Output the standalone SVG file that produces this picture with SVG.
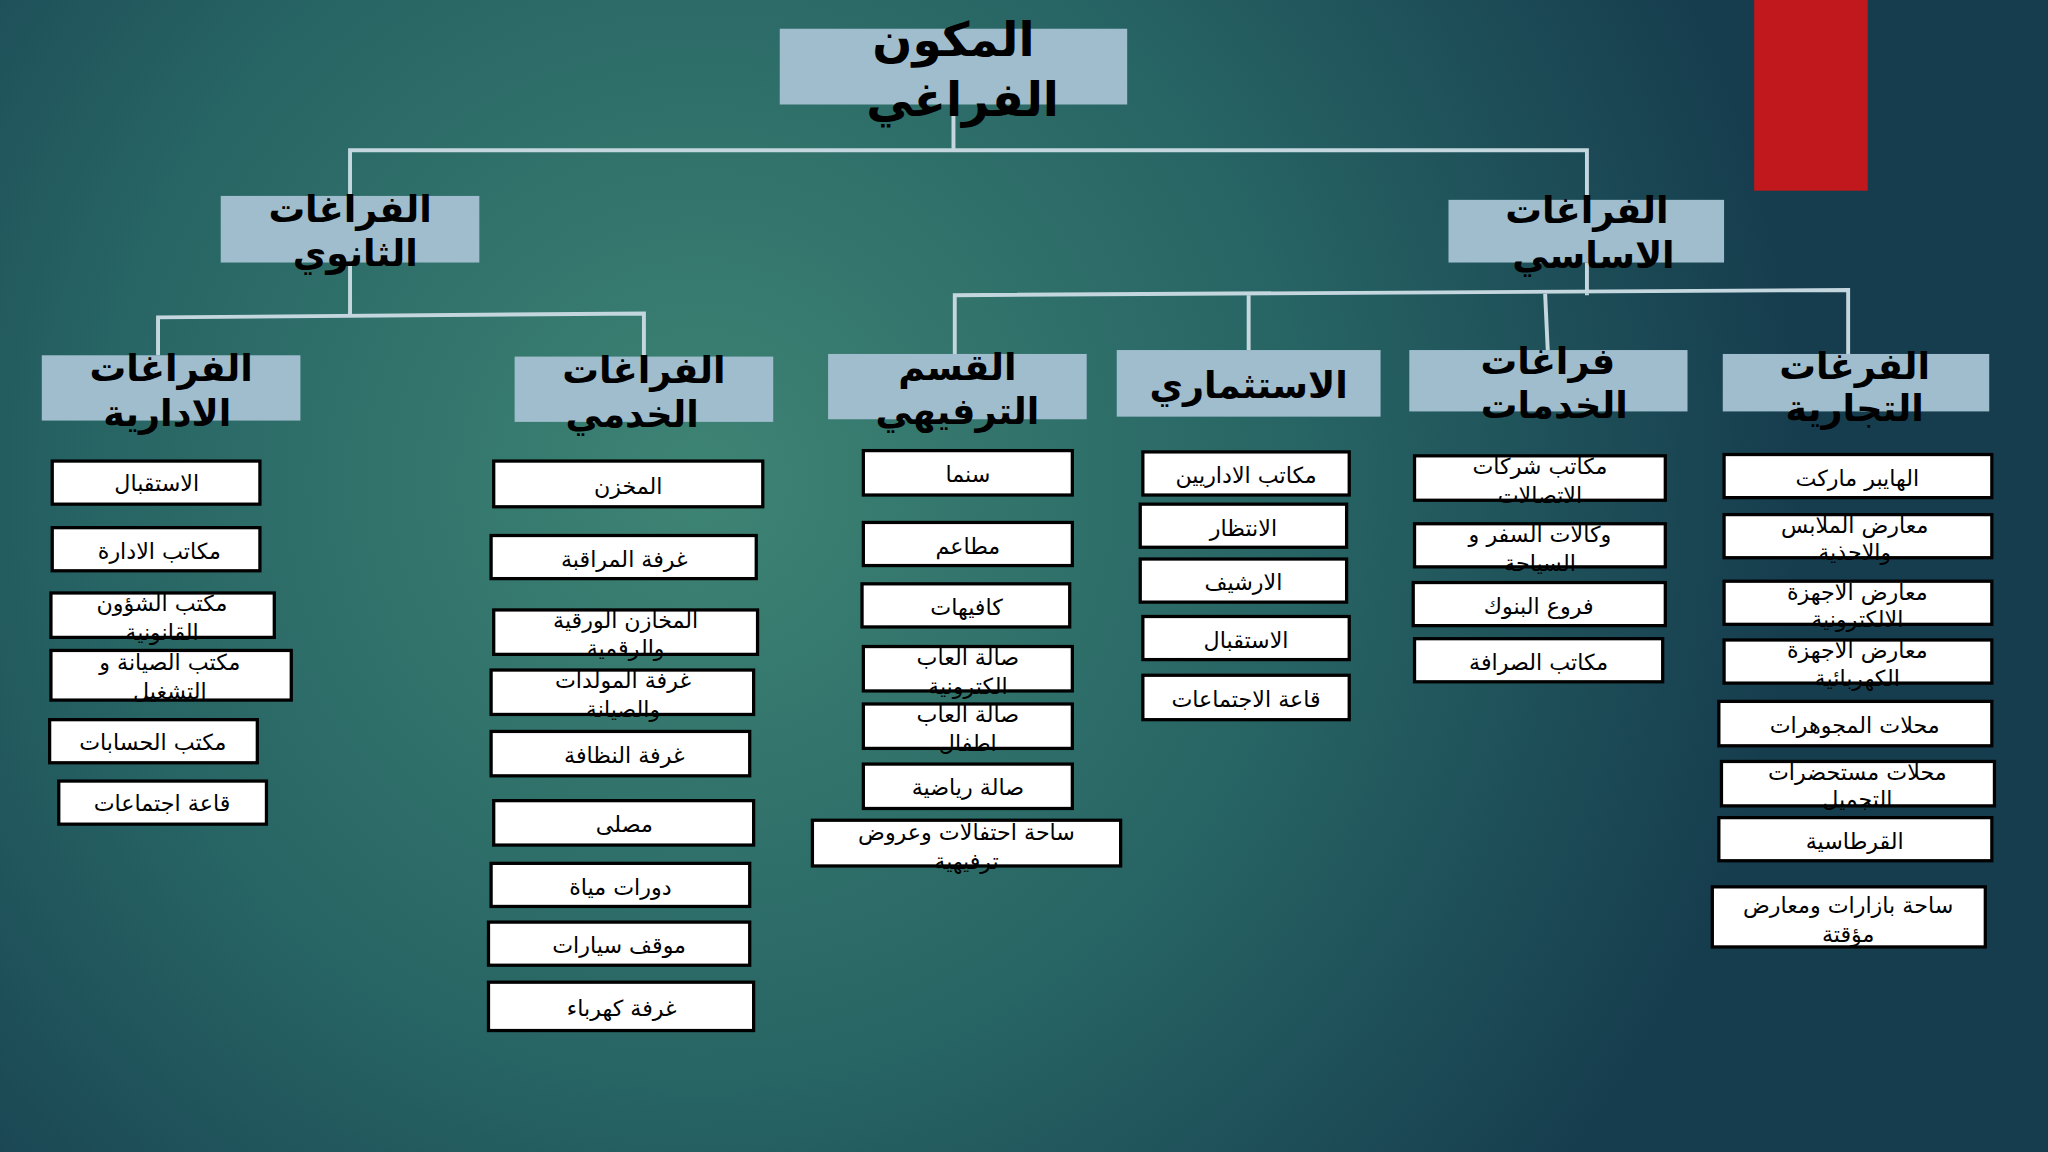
<svg xmlns="http://www.w3.org/2000/svg" width="2048" height="1152" viewBox="0 0 2048 1152">
<defs>
<radialGradient id="bg" cx="700" cy="480" r="1100" gradientUnits="userSpaceOnUse">
<stop offset="0" stop-color="#3e8474"/><stop offset="0.55" stop-color="#276464"/><stop offset="1" stop-color="#163d4e"/>
</radialGradient>
<style>
.h{fill:#9fbdcd}
.hl{font-family:"DejaVu Sans",sans-serif;font-weight:bold;font-size:28px;fill:#000;text-anchor:middle;direction:rtl}
.lf rect{fill:#fff;stroke:#000;stroke-width:2.5}
.lf text{font-family:"DejaVu Sans",sans-serif;font-size:17px;fill:#000;text-anchor:middle;direction:rtl}
.c{stroke:#c4d6de;stroke-width:3;fill:none}
</style>
</defs>
<rect width="2048" height="1152" fill="url(#bg)"/>
<g transform="scale(1.30612)">
<rect x="1343" y="0" width="87" height="146" fill="#c0181c"/>
<g id="connectors" class="c">
<path d="M730 80V116M268 150V115H1215V153"/>
<path d="M268 201V242M121 272V243L493 240V273"/>
<path d="M1215 201V226M731 271V226L1415 222V271M956 226V268M1183 225L1185 268"/>
</g>
<g id="title"><rect class="h" x="597" y="22" width="266" height="58"/><text class="hl" style="font-size:36px" x="730" y="43">المكون</text><text class="hl" style="font-size:36px" x="737" y="89">الفراغي</text></g>
<g id="secondary"><rect class="h" x="169" y="150" width="198" height="51"/><text class="hl" x="268" y="170">الفراغات</text><text class="hl" x="272" y="204">الثانوي</text></g>
<g id="primary"><rect class="h" x="1109" y="153" width="211" height="48"/><text class="hl" x="1215" y="171">الفراغات</text><text class="hl" x="1220" y="205">الاساسي</text></g>
<g id="admin"><rect class="h" x="32" y="272" width="198" height="50"/><text class="hl" x="131" y="292">الفراغات</text><text class="hl" x="128" y="326">الادارية</text></g>
<g id="service"><rect class="h" x="394" y="273" width="198" height="50"/><text class="hl" x="493" y="293">الفراغات</text><text class="hl" x="484" y="327">الخدمي</text></g>
<g id="recreation"><rect class="h" x="634" y="271" width="198" height="50"/><text class="hl" x="733" y="291">القسم</text><text class="hl" x="733" y="325">الترفيهي</text></g>
<g id="invest"><rect class="h" x="855" y="268" width="202" height="51"/><text class="hl" x="956" y="305">الاستثماري</text></g>
<g id="services"><rect class="h" x="1079" y="268" width="213" height="47"/><text class="hl" x="1185" y="286">فراغات</text><text class="hl" x="1190" y="320">الخدمات</text></g>
<g id="commercial"><rect class="h" x="1319" y="271" width="204" height="44"/><text class="hl" x="1420" y="290">الفرغات</text><text class="hl" x="1420" y="322">التجارية</text></g>

<g class="lf">
<g id="a1"><rect x="40" y="353" width="159" height="33"/><text x="120" y="376">الاستقبال</text></g>
<g id="a2"><rect x="40" y="404" width="159" height="33"/><text x="122" y="428">مكاتب الادارة</text></g>
<g id="a3"><rect x="39" y="454" width="171" height="34"/><text x="124" y="468">مكتب الشؤون</text><text x="124" y="490">القانونية</text></g>
<g id="a4"><rect x="39" y="498" width="184" height="38"/><text x="130" y="513">مكتب الصيانة و</text><text x="130" y="535">التشغيل</text></g>
<g id="a5"><rect x="38" y="551" width="159" height="33"/><text x="117" y="574">مكتب الحسابات</text></g>
<g id="a6"><rect x="45" y="598" width="159" height="33"/><text x="124" y="621">قاعة اجتماعات</text></g>

<g id="s1"><rect x="378" y="353" width="206" height="35"/><text x="481" y="378">المخزن</text></g>
<g id="s2"><rect x="376" y="410" width="203" height="33"/><text x="478" y="434">غرفة المراقبة</text></g>
<g id="s3"><rect x="378" y="467" width="202" height="34"/><text x="479" y="481">المخازن الورقية</text><text x="479" y="502">والرقمية</text></g>
<g id="s4"><rect x="376" y="513" width="201" height="34"/><text x="477" y="527">غرفة المولدات</text><text x="477" y="549">والصيانة</text></g>
<g id="s5"><rect x="376" y="560" width="198" height="34"/><text x="478" y="584">غرفة النظافة</text></g>
<g id="s6"><rect x="378" y="613" width="199" height="34"/><text x="478" y="637">مصلى</text></g>
<g id="s7"><rect x="376" y="661" width="198" height="33"/><text x="475" y="685">دورات مياة</text></g>
<g id="s8"><rect x="374" y="706" width="200" height="33"/><text x="474" y="730">موقف سيارات</text></g>
<g id="s9"><rect x="374" y="752" width="203" height="37"/><text x="476" y="778">غرفة كهرباء</text></g>

<g id="r1"><rect x="661" y="345" width="160" height="34"/><text x="741" y="369">سنما</text></g>
<g id="r2"><rect x="661" y="400" width="160" height="33"/><text x="741" y="424">مطاعم</text></g>
<g id="r3"><rect x="660" y="447" width="159" height="33"/><text x="740" y="471">كافيهات</text></g>
<g id="r4"><rect x="661" y="495" width="160" height="34"/><text x="741" y="509">صالة العاب</text><text x="741" y="531">الكترونية</text></g>
<g id="r5"><rect x="661" y="539" width="160" height="34"/><text x="741" y="553">صالة العاب</text><text x="741" y="575">اطفال</text></g>
<g id="r6"><rect x="661" y="585" width="160" height="34"/><text x="741" y="609">صالة رياضية</text></g>
<g id="r7"><rect x="622" y="628" width="236" height="35"/><text x="740" y="643">ساحة احتفالات وعروض</text><text x="740" y="665">ترفيهية</text></g>

<g id="i1"><rect x="875" y="346" width="158" height="33"/><text x="954" y="370">مكاتب الاداريين</text></g>
<g id="i2"><rect x="873" y="386" width="158" height="33"/><text x="952" y="410">الانتظار</text></g>
<g id="i3"><rect x="873" y="428" width="158" height="33"/><text x="952" y="452">الارشيف</text></g>
<g id="i4"><rect x="875" y="472" width="158" height="33"/><text x="954" y="496">الاستقبال</text></g>
<g id="i5"><rect x="875" y="517" width="158" height="34"/><text x="954" y="541">قاعة الاجتماعات</text></g>

<g id="v1"><rect x="1083" y="349" width="192" height="34"/><text x="1179" y="363">مكاتب شركات</text><text x="1179" y="385">الاتصالات</text></g>
<g id="v2"><rect x="1083" y="401" width="192" height="33"/><text x="1179" y="415">وكالات السفر و</text><text x="1179" y="437">السياحة</text></g>
<g id="v3"><rect x="1082" y="446" width="193" height="33"/><text x="1178" y="470">فروع البنوك</text></g>
<g id="v4"><rect x="1083" y="489" width="190" height="33"/><text x="1178" y="513">مكاتب الصرافة</text></g>

<g id="c1"><rect x="1320" y="348" width="205" height="33"/><text x="1422" y="372">الهايبر ماركت</text></g>
<g id="c2"><rect x="1320" y="394" width="205" height="33"/><text x="1420" y="408">معارض الملابس</text><text x="1420" y="429">والاحذية</text></g>
<g id="c3"><rect x="1320" y="445" width="205" height="33"/><text x="1422" y="459">معارض الاجهزة</text><text x="1422" y="480">الالكترونية</text></g>
<g id="c4"><rect x="1320" y="490" width="205" height="33"/><text x="1422" y="504">معارض الاجهزة</text><text x="1422" y="525">الكهربائية</text></g>
<g id="c5"><rect x="1316" y="537" width="209" height="34"/><text x="1420" y="561">محلات المجوهرات</text></g>
<g id="c6"><rect x="1318" y="583" width="209" height="34"/><text x="1422" y="597">محلات مستحضرات</text><text x="1422" y="618">التجميل</text></g>
<g id="c7"><rect x="1316" y="626" width="209" height="33"/><text x="1420" y="650">القرطاسية</text></g>
<g id="c8"><rect x="1311" y="679" width="209" height="46"/><text x="1415" y="699">ساحة بازارات ومعارض</text><text x="1415" y="721">مؤقتة</text></g>
</g>
</g>
</svg>
